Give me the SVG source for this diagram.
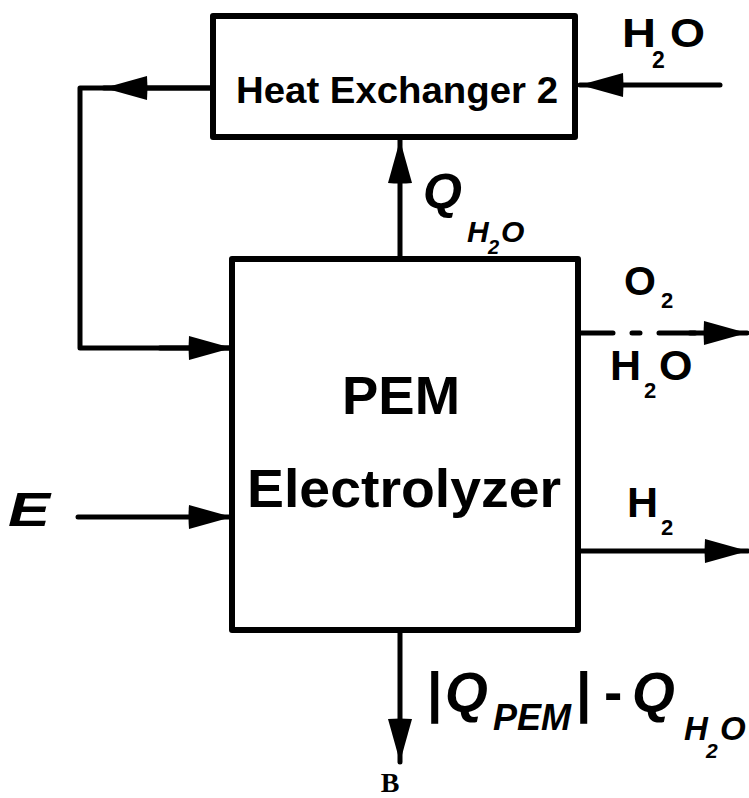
<svg xmlns="http://www.w3.org/2000/svg" width="749" height="798" viewBox="0 0 749 798">
<style>
.box{fill:#fff;stroke:#000;stroke-width:6;stroke-linejoin:round}
.ln{fill:none;stroke:#000;stroke-width:5;stroke-linecap:round;stroke-linejoin:round}
.t{font-family:"Liberation Sans",Arial,sans-serif;font-weight:bold;fill:#000}
.i{font-style:italic}
</style>
<defs>
<marker id="a" viewBox="0 0 44 26" refX="44" refY="13" markerWidth="44" markerHeight="26" markerUnits="userSpaceOnUse" orient="auto">
<path d="M1,1 L44,13 L1,25 Q0,13 1,1Z" fill="#000"/>
</marker>
</defs>
<g id="connectors">
<path class="ln" d="M720,85 L580,85" marker-end="url(#a)"/>
<path class="ln" d="M212,88 L80,88 L80,348 L232,348"/>
<path class="ln" d="M212,88 L104,88" marker-end="url(#a)"/>
<path class="ln" d="M160,348 L232,348" marker-end="url(#a)"/>
<path class="ln" d="M400,258 L400,140" marker-end="url(#a)"/>
<path class="ln" d="M78,517 L232,517" marker-end="url(#a)"/>
<path class="ln" d="M578,333 L613,333 M632,333 L640,333 M659,333 L695,333"/>
<path class="ln" d="M690,333 L747,333" marker-end="url(#a)"/>
<path class="ln" d="M578,551 L748,551" marker-end="url(#a)"/>
<path class="ln" d="M400,630 L400,762" marker-end="url(#a)"/>
</g>
<g id="hx">
<rect class="box" x="213" y="16" width="362" height="121"/>
<text class="t" x="236" y="103" font-size="36" textLength="322" lengthAdjust="spacingAndGlyphs">Heat Exchanger 2</text>
</g>
<g id="pem">
<rect class="box" x="232" y="259" width="346" height="371"/>
<text class="t" x="342" y="414" font-size="54" textLength="118" lengthAdjust="spacingAndGlyphs">PEM</text>
<text class="t" x="247" y="507" font-size="53" textLength="314" lengthAdjust="spacingAndGlyphs">Electrolyzer</text>
</g>
<g id="labels">
<text class="t" x="622" y="47" font-size="40" textLength="34" lengthAdjust="spacingAndGlyphs">H</text>
<text class="t" x="652" y="68" font-size="23">2</text>
<text class="t" x="670" y="47" font-size="40" textLength="35" lengthAdjust="spacingAndGlyphs">O</text>
<text class="t i" x="423" y="209" font-size="50">Q</text>
<text class="t i" x="467" y="242" font-size="30">H</text>
<text class="t i" x="488" y="254" font-size="20">2</text>
<text class="t i" x="501" y="242" font-size="30">O</text>
<text class="t" x="624" y="295" font-size="41">O</text>
<text class="t" x="661" y="308" font-size="22">2</text>
<text class="t" x="610" y="380" font-size="43">H</text>
<text class="t" x="644" y="398" font-size="22">2</text>
<text class="t" x="659" y="380" font-size="43">O</text>
<text class="t i" x="8" y="526" font-size="48" textLength="42" lengthAdjust="spacingAndGlyphs">E</text>
<text class="t" x="627" y="517" font-size="43">H</text>
<text class="t" x="661" y="535" font-size="22">2</text>
<text class="t" x="427" y="711" font-size="55">|</text>
<text class="t i" x="445" y="711" font-size="55">Q</text>
<text class="t i" x="493" y="730" font-size="36">PEM</text>
<text class="t" x="576" y="711" font-size="55">|</text>
<text class="t" x="604" y="711" font-size="55">-</text>
<text class="t i" x="632" y="711" font-size="55">Q</text>
<text class="t i" x="684" y="740" font-size="33">H</text>
<text class="t i" x="706" y="758" font-size="21">2</text>
<text class="t i" x="720" y="740" font-size="33">O</text>
<text x="390" y="792" font-family="'Liberation Serif','Times New Roman',serif" font-weight="bold" font-size="28" text-anchor="middle">B</text>
</g>
</svg>
